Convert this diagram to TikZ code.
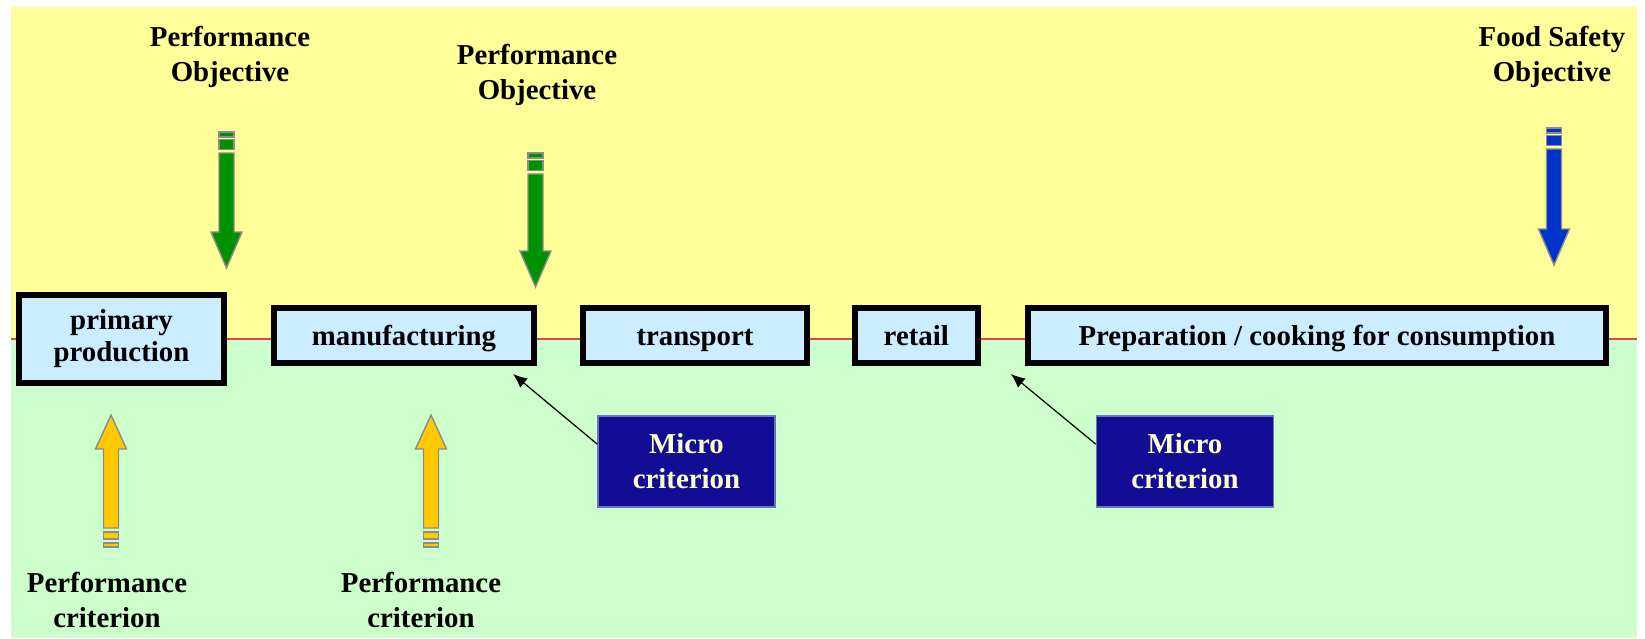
\documentclass[tikz,border=0pt]{standalone}
\usepackage{fontspec}
\setmainfont{Liberation Serif}
\usepackage{xcolor}
\usepackage{tikz}
\usetikzlibrary{positioning}
\usetikzlibrary{arrows.meta}

\definecolor{bgyellow}{HTML}{FFFF99}
\definecolor{bggreen}{HTML}{CCFFCC}
\definecolor{stagefill}{HTML}{CCECFF}
\definecolor{microfill}{HTML}{110D94}
\definecolor{microtext}{HTML}{FFFFCC}
\definecolor{pogreen}{HTML}{009100}
\definecolor{fsoblue}{HTML}{0033CC}
\definecolor{pcyellow}{HTML}{FFC800}
\definecolor{splitred}{HTML}{E0405A}

\begin{document}
\begin{tikzpicture}[
  x=0.01cm, y=-0.01cm,
  stage/.style={
    rectangle,
    draw=black,
    line width=1.7pt,
    fill=stagefill,
    minimum height=0.55cm,
    inner sep=0pt,
    align=center,
    font=\bfseries\fontsize{8.2}{9.1}\selectfont
  },
  oneline/.style={text height=5.4pt, text depth=0pt},
  micro/.style={
    rectangle,
    draw=microfill!60!white,
    line width=0.4pt,
    fill=microfill,
    text=microtext,
    minimum width=1.77cm,
    minimum height=0.91cm,
    inner sep=0pt,
    align=center,
    font=\bfseries\fontsize{8.2}{9.9}\selectfont
  },
  lbl/.style={align=center, font=\bfseries\fontsize{8.2}{9.9}\selectfont},
  fat/.style={draw=black!45, line width=0.4pt},
  ptr/.style={-{Latex[length=4pt,width=3.4pt]}, line width=0.35pt}
]
\useasboundingbox (0,0) rectangle (1645,638);

% Background
\fill[bgyellow] (11,7) rectangle (1637,339);
\fill[bggreen] (11,339) rectangle (1637,638);
\draw[splitred, line width=0.6pt] (11,339) -- (1637,339);

% Chain
\node[stage, minimum width=2.05cm, minimum height=0.88cm] (prim) at (121.5,339) {primary\\production};
\node[stage, oneline, minimum width=2.60cm] (manuf) at (404,335.5) {manufacturing};
\node[stage, oneline, minimum width=2.23cm] (transp) at (695,335.5) {transport};
\node[stage, oneline, minimum width=1.23cm] (retail) at (916.3,335.5) {retail};
\node[stage, oneline, minimum width=5.78cm] (prep) at (1317,335.5) {Preparation / cooking for consumption};

% Objectives (down arrows)
\foreach \ax/\ty/\py/\ac in {226.5/132/268/pogreen, 535.5/153/287/pogreen, 1554/128/265/fsoblue}{
  \filldraw[fat, fill=\ac] ({\ax-7.5},\ty) rectangle ({\ax+7.5},{\ty+5});
  \filldraw[fat, fill=\ac] ({\ax-7.5},{\ty+7.5}) rectangle ({\ax+7.5},{\ty+17.5});
  \filldraw[fat, fill=\ac] ({\ax-7.5},{\ty+21}) -- ({\ax+7.5},{\ty+21}) -- ({\ax+7.5},{\py-36})
    -- ({\ax+15.5},{\py-36}) -- (\ax,\py) -- ({\ax-15.5},{\py-36}) -- ({\ax-7.5},{\py-36}) -- cycle;
}
\node[lbl] (po1) at (230,57) {Performance\\Objective};
\node[lbl] (po2) at (537,75) {Performance\\Objective};
\node[lbl] (fso) at (1552,56.5) {Food Safety\\Objective};

% Criteria (up arrows)
\foreach \ax in {111,431}{
  \filldraw[fat, fill=pcyellow] ({\ax-7.5},543) rectangle ({\ax+7.5},547);
  \filldraw[fat, fill=pcyellow] ({\ax-7.5},532) rectangle ({\ax+7.5},539);
  \filldraw[fat, fill=pcyellow] ({\ax-7.5},528) -- ({\ax+7.5},528) -- ({\ax+7.5},449)
    -- ({\ax+15.5},449) -- (\ax,415) -- ({\ax-15.5},449) -- ({\ax-7.5},449) -- cycle;
}
\node[lbl] (pc1) at (107,600) {Performance\\criterion};
\node[lbl] (pc2) at (421,600) {Performance\\criterion};

% Micro criteria
\node[micro] (micro1) at (686.5,461.5) {Micro\\criterion};
\node[micro] (micro2) at (1185,461.5) {Micro\\criterion};
\draw[ptr] (micro1.169) -- ([shift={(-24,8)}]manuf.south east);
\draw[ptr] (micro2.169) -- ([shift={(30,8)}]retail.south east);

\end{tikzpicture}
\end{document}
